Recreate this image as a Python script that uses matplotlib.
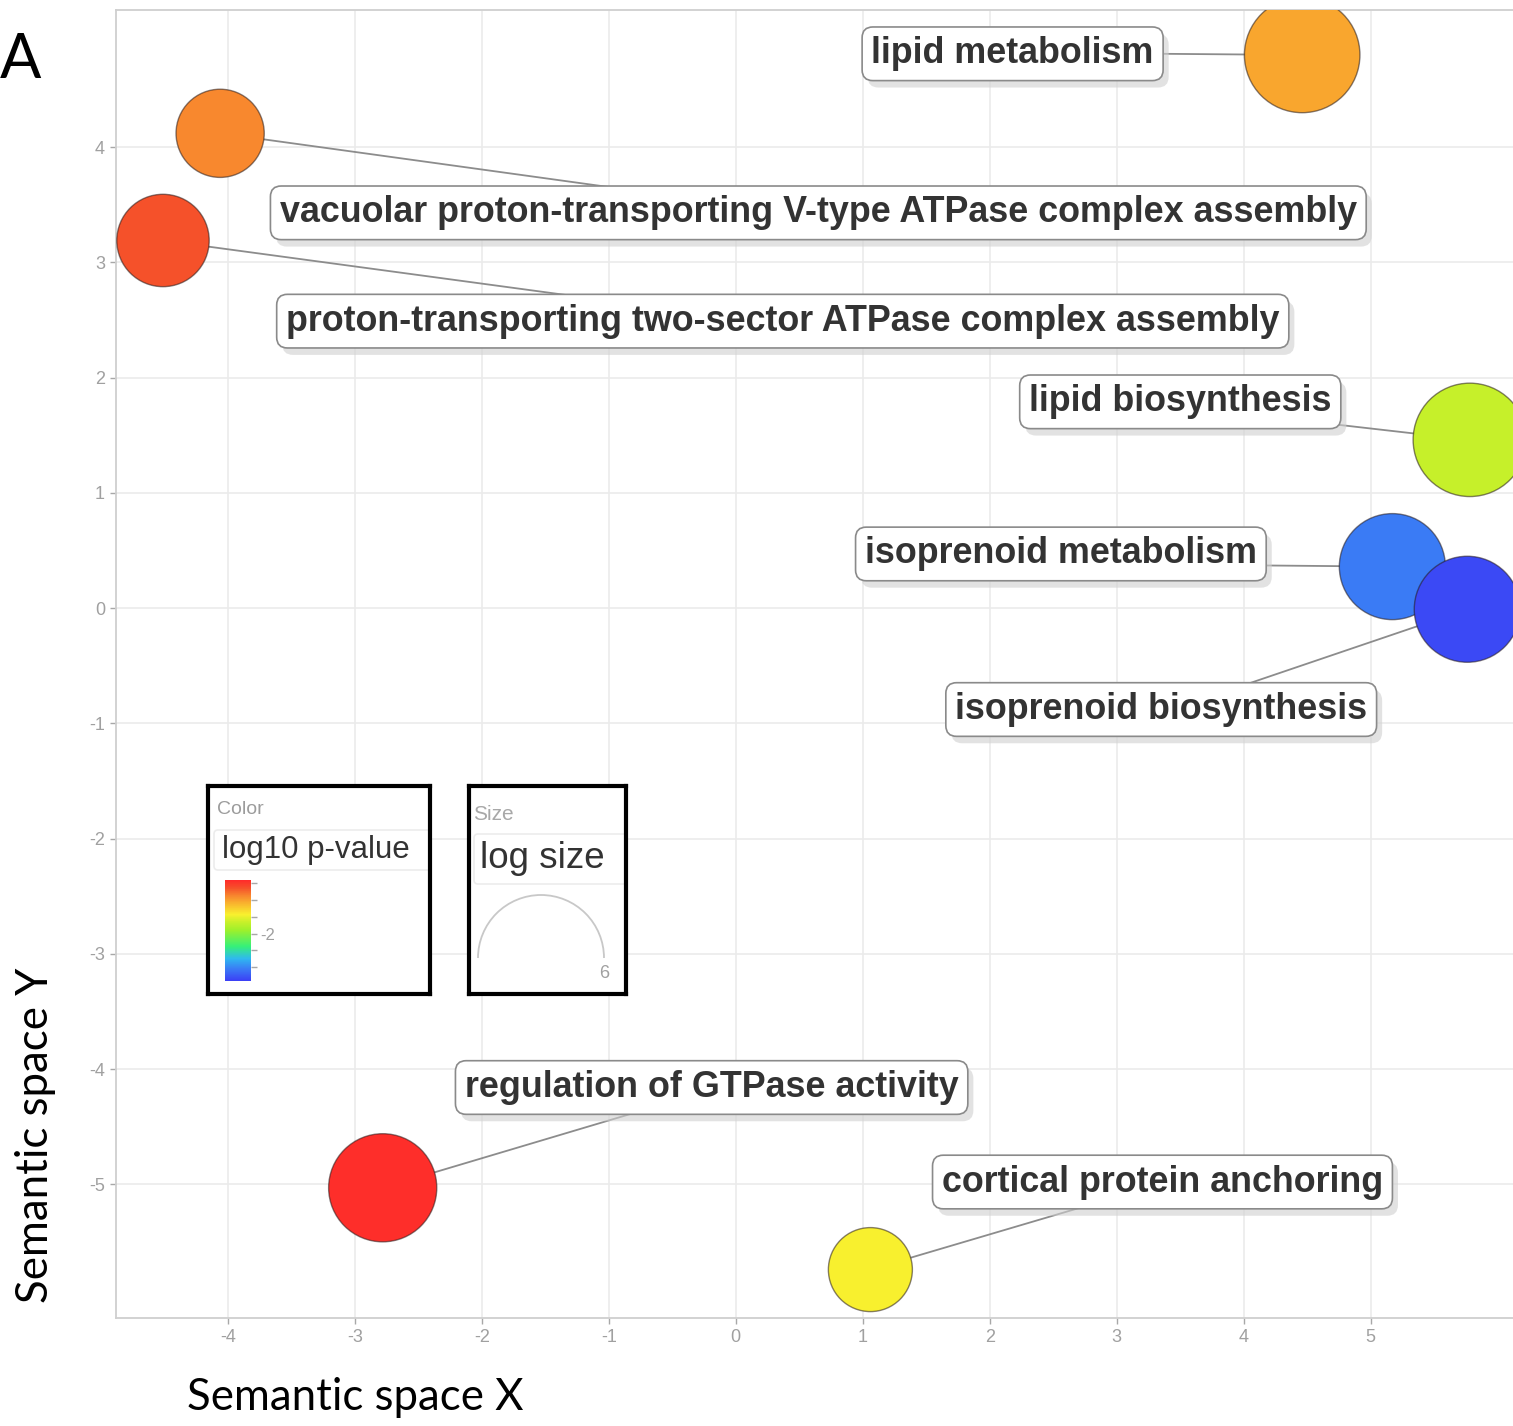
import matplotlib.pyplot as plt
import matplotlib.patheffects as pe
import numpy as np
from matplotlib.colors import LinearSegmentedColormap, Normalize
from matplotlib.cm import ScalarMappable
from matplotlib.patches import Arc, FancyBboxPatch

# GO terms and their semantic-space coordinates
terms = [
    "lipid metabolism",
    "vacuolar proton-transporting V-type ATPase complex assembly",
    "proton-transporting two-sector ATPase complex assembly",
    "lipid biosynthesis",
    "isoprenoid metabolism",
    "isoprenoid biosynthesis",
    "regulation of GTPase activity",
    "cortical protein anchoring",
]
sem_x = [4.46, -4.06, -4.51, 5.78, 5.17, 5.76, -2.78, 1.06]
sem_y = [4.80, 4.12, 3.19, 1.46, 0.36, -0.01, -5.03, -5.74]
log10_pvalue = [-1.04, -0.89, -0.65, -1.67, -3.05, -3.35, -0.44, -1.43]
log_size = [5.5, 4.2, 4.4, 5.4, 5.05, 5.05, 5.15, 4.0]

# label placement (centre of box) and where the connector meets the box
label_xy = [(2.18, 4.81), (0.65, 3.43), (0.37, 2.49), (3.50, 1.79),
            (2.56, 0.47), (3.35, -0.88), (-0.19, -4.16), (3.36, -4.98)]
link_xy = [(3.35, 4.81), (-0.91, 3.64), (-1.29, 2.71), (4.75, 1.59),
           (4.17, 0.37), (4.05, -0.65), (-0.83, -4.39), (2.72, -5.20)]

x_ticks = [-4, -3, -2, -1, 0, 1, 2, 3, 4, 5]
y_ticks = [-5, -4, -3, -2, -1, 0, 1, 2, 3, 4]

cmap = LinearSegmentedColormap.from_list("revigo", [
    (0.00, "#3b3ff5"), (0.12, "#3a7cf5"), (0.22, "#2fb8f0"),
    (0.34, "#35f07a"), (0.50, "#9cf02c"), (0.58, "#c6f02a"),
    (0.66, "#f9f02e"), (0.79, "#f9a72e"), (0.84, "#f88a2e"),
    (0.92, "#f5522a"), (1.00, "#ff2a2a")])
norm = Normalize(vmin=-3.41, vmax=-0.41)

W, H, DPI = 1513, 1426, 100
fig = plt.figure(figsize=(W / DPI, H / DPI), dpi=DPI)
plt.rcParams['font.family'] = ['Liberation Sans', 'DejaVu Sans']
plt.rcParams['axes.unicode_minus'] = False

ax = fig.add_axes([116 / W, 1 - 1318 / H, 1 - 116 / W, (1318 - 10) / H])
ax.set_xlim(-4.88, 6.12)
ax.set_ylim(-6.16, 5.19)
ax.set_xticks(x_ticks)
ax.set_yticks(y_ticks)
ax.grid(True, color="#ebebeb", lw=1.2, zorder=0)
ax.set_axisbelow(True)
for side in ["left", "bottom", "top"]:
    ax.spines[side].set_color("#cfcfcf")
    ax.spines[side].set_linewidth(1.3)
ax.spines["right"].set_visible(False)
ax.tick_params(colors="#a8a8a8", labelcolor="#a0a0a0", labelsize=13,
               length=4, width=1, pad=4)

# marker size in points^2 from log size (10.5 px per unit of log size)
px_per_unit = 10.5
radius_pt = np.array(log_size) * px_per_unit * 72 / DPI
ax.scatter(sem_x, sem_y, s=(2 * radius_pt) ** 2, c=log10_pvalue, cmap=cmap,
           norm=norm, edgecolors=(0.15, 0.1, 0.1, 0.55), linewidths=1.0,
           zorder=5)

for term, bx, by, (lx, ly), (cx, cy) in zip(terms, sem_x, sem_y, label_xy, link_xy):
    ax.plot([bx, cx], [by, cy], color="#8c8c8c", lw=1.3, zorder=3)
    t = ax.text(lx, ly, term, ha="center", va="center", fontsize=25.8,
                fontweight="bold", color="#333333", zorder=6,
                bbox=dict(boxstyle="round,pad=0.26,rounding_size=0.3",
                          fc="white", ec="#8a8a8a", lw=1.2))
    t.get_bbox_patch().set_path_effects([
        pe.SimplePatchShadow(offset=(4, -5), shadow_rgbFace="#d0d0d0", alpha=0.6),
        pe.Normal()])


def panel(x0, y0, x1, y1):
    """Legend panel positioned in pixel coordinates, drawn in pixel units."""
    pax = fig.add_axes([x0 / W, 1 - y1 / H, (x1 - x0) / W, (y1 - y0) / H])
    pax.set_xlim(x0, x1)
    pax.set_ylim(y1, y0)
    pax.set_xticks([])
    pax.set_yticks([])
    for s in pax.spines.values():
        s.set_linewidth(3.0)
        s.set_color("black")
    pax.set_zorder(10)
    return pax


# colour legend
cpan = panel(208, 786, 430, 994)
cpan.text(217, 810, "Color", fontsize=14, color="#9c9c9c", va="center")
cpan.add_patch(FancyBboxPatch((214, 830), 230, 40, boxstyle="round,pad=0,rounding_size=4",
                              fc="white", ec="#ececec", lw=1.2))
cpan.text(222, 850, "log10 p-value", fontsize=22.5, color="#333333", va="center")

cax = fig.add_axes([225 / W, 1 - 981 / H, 26 / W, 101 / H])
cax.set_zorder(11)
cb = fig.colorbar(ScalarMappable(norm=norm, cmap=cmap), cax=cax)
cb.outline.set_visible(False)
cb.set_ticks([-3.0, -2.5, -2.0, -1.5, -1.0, -0.5])
cb.set_ticklabels(["", "", "-2", "", "", ""])
cax.tick_params(colors="#a8a8a8", labelcolor="#a0a0a0", labelsize=12,
                length=4, width=1, pad=3)

# size legend
span = panel(469, 786, 626, 994)
span.text(473, 814, "Size", fontsize=15, color="#a8a8a8", va="center")
span.add_patch(FancyBboxPatch((474, 834), 160, 50, boxstyle="round,pad=0,rounding_size=4",
                              fc="white", ec="#ececec", lw=1.2))
span.text(480, 859, "log size", fontsize=26.5, color="#333333", va="center")
legend_size = 6
r_px = legend_size * px_per_unit
span.add_patch(Arc((541, 958), 2 * r_px, 2 * r_px, theta1=180, theta2=360,
                   color="#c8c8c8", lw=1.3))
span.text(604, 974, str(legend_size), fontsize=13, color="#a0a0a0",
          ha="center", va="center")

# axis titles and panel letter
fig.text(355 / W, 1 - 1398 / H, "Semantic space X", fontsize=31.5, family="Lato",
         ha="center", va="center", color="black")
fig.text(36 / W, 1 - 1135 / H, "Semantic space Y", fontsize=31.5, family="Lato",
         rotation=90, ha="center", va="center", color="black")
fig.text(0, 1 - 60 / H, "A", fontsize=44, family="Lato",
         ha="left", va="center", color="black")

fig.savefig("out.png", dpi=DPI)
